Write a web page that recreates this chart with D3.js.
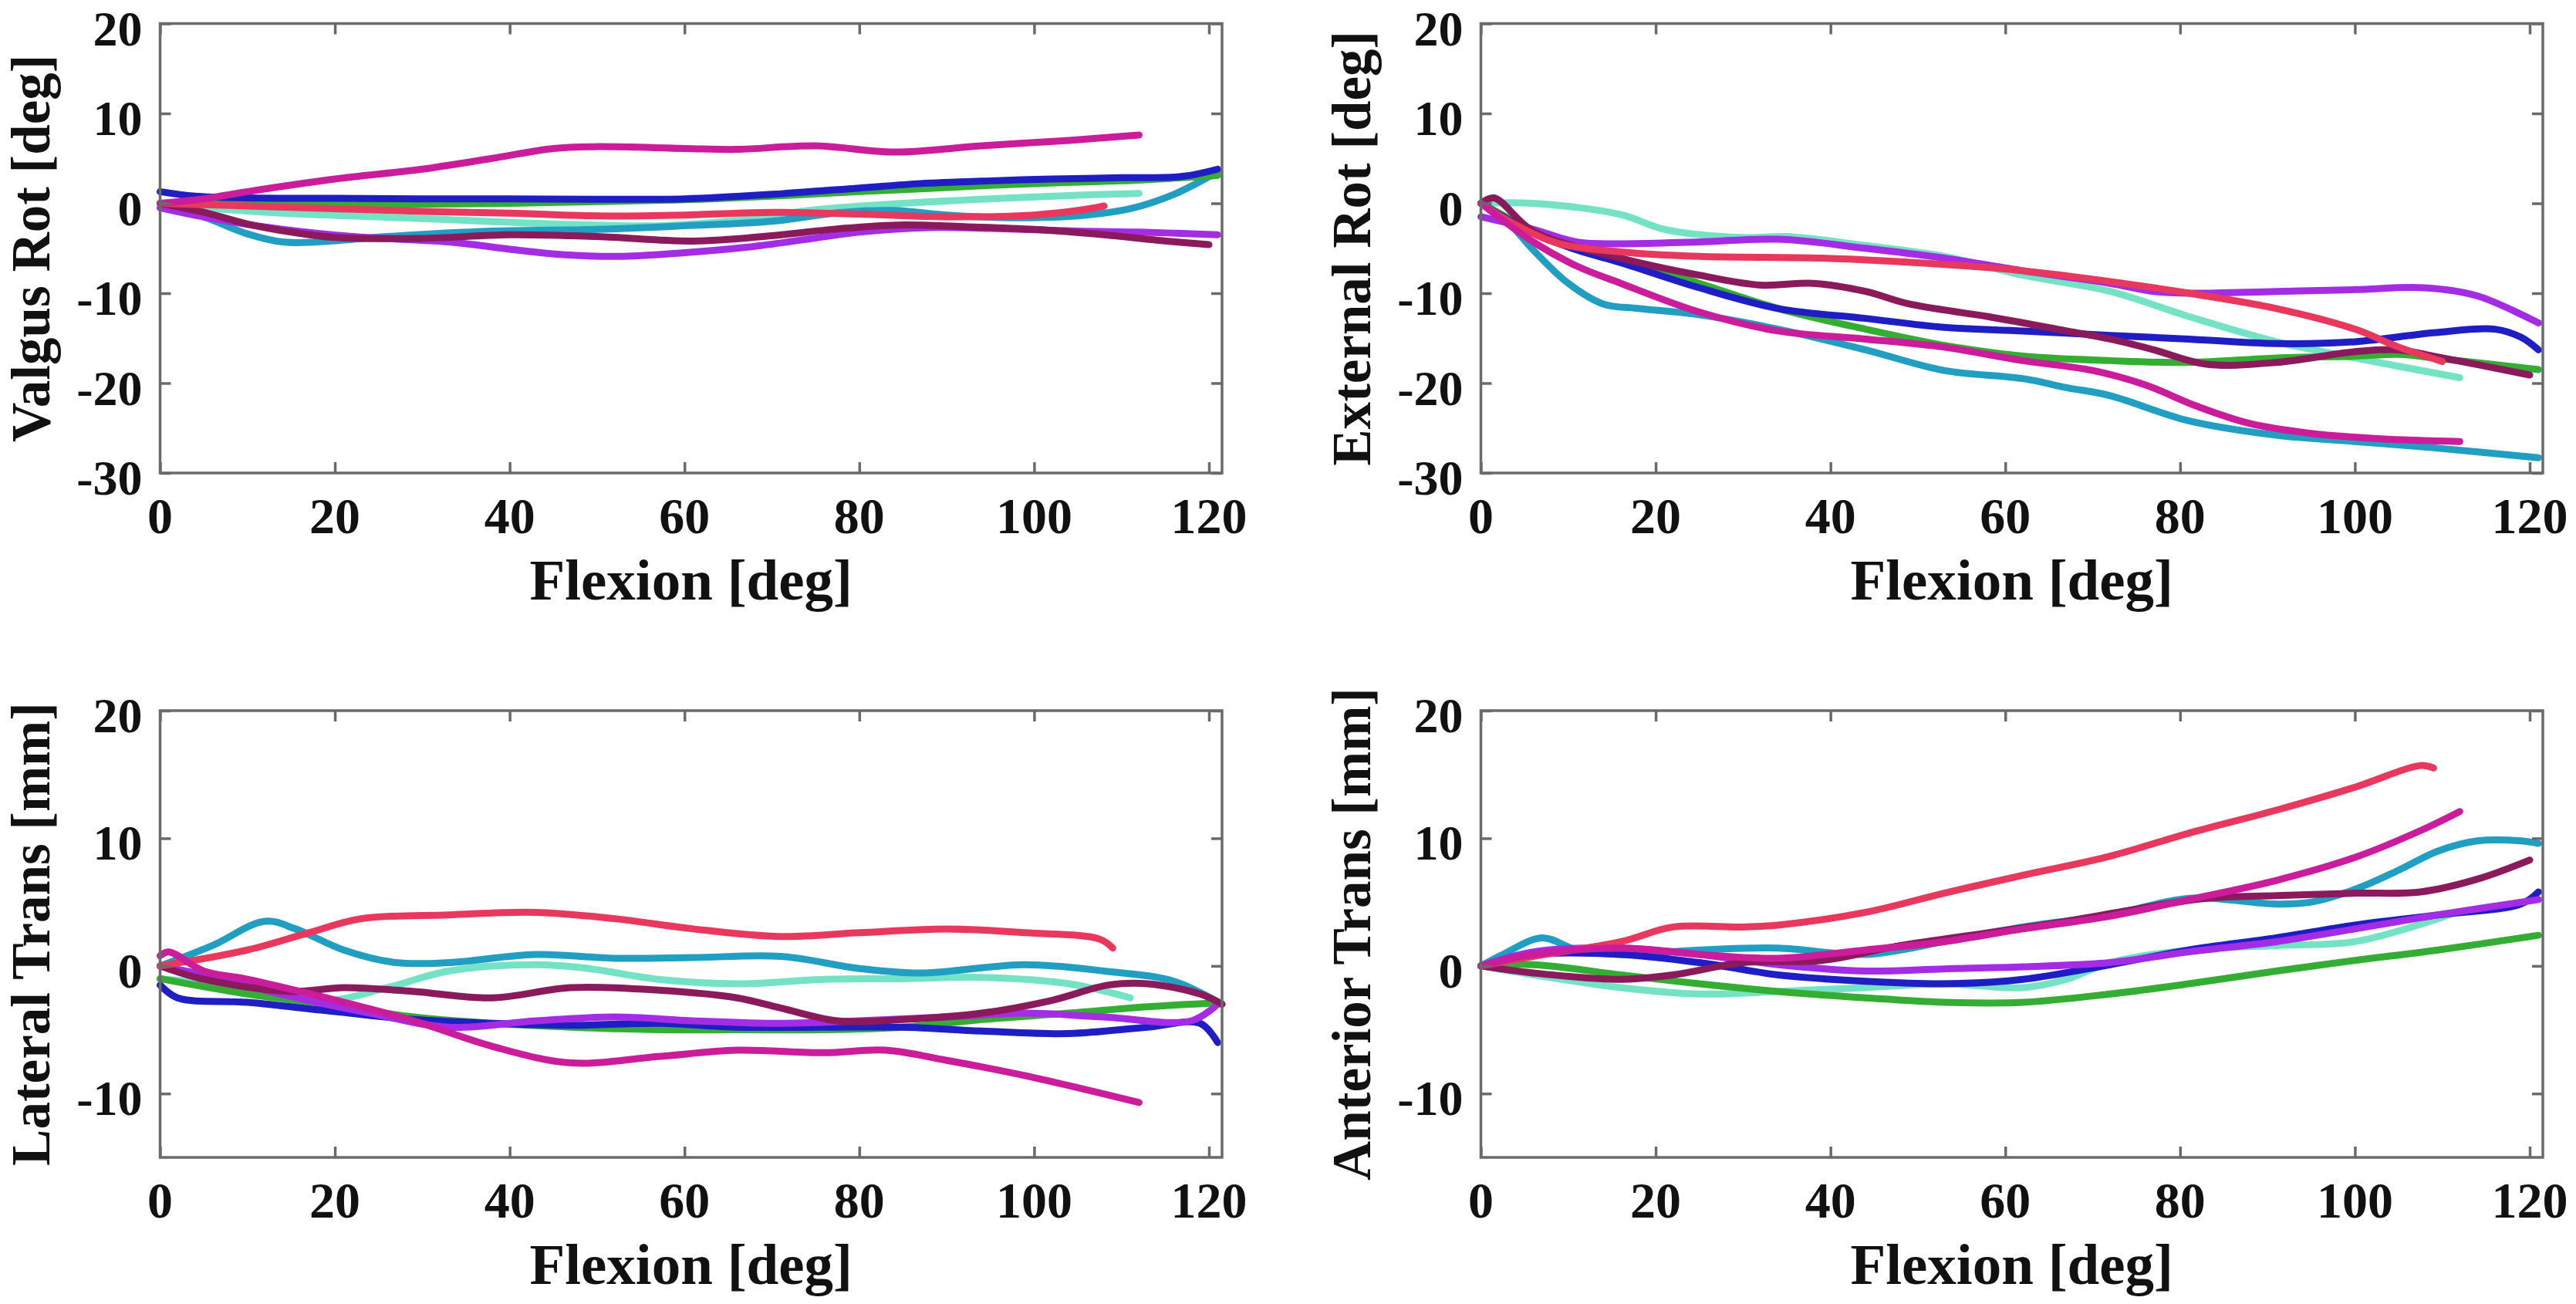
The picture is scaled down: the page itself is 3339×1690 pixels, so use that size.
<!DOCTYPE html>
<html><head><meta charset="utf-8">
<script src="https://cdn.jsdelivr.net/npm/d3@7/dist/d3.min.js"></script>
<style>body{margin:0;background:#fff}svg{display:block}</style>
</head><body>
<svg id="chart" width="3339" height="1690"></svg>
<script>
// ---------------- data ----------------
const specimens = ["blue", "green", "aqua", "teal", "red", "magenta", "purple", "maroon"];
const xTicks = [0, 20, 40, 60, 80, 100, 120];
const yTicksRot = [20, 10, 0, -10, -20, -30];
const yTicksTrans = [20, 10, 0, -10];
const xLabel = "Flexion [deg]";
const yLabels = ["Valgus Rot [deg]", "External Rot [deg]", "Lateral Trans [mm]", "Anterior Trans [mm]"];

// each series: [flexion, value] pairs, order follows `specimens`
const valgusRot = [
  [[0,1.3],[4,0.8],[10,0.6],[20,0.55],[30,0.5],[40,0.5],[50,0.45],[60,0.5],[70,1.0],[80,1.7],[87,2.2],[95,2.5],[102,2.7],[110,2.85],[117,3.0],[121,3.8]],
  [[0,0],[10,0],[20,-0.1],[30,-0.1],[40,0],[50,0.2],[60,0.4],[70,0.8],[80,1.3],[87,1.6],[95,2.0],[103,2.3],[110,2.5],[116,2.8],[121,3.1]],
  [[0,0],[5,-0.5],[14,-1.1],[30,-1.7],[45,-2.3],[57,-2.5],[65,-2.0],[75,-0.7],[85,0],[95,0.5],[105,0.9],[112,1.1]],
  [[0,0],[5,-1.5],[10,-3.4],[14,-4.3],[18,-4.3],[26,-3.7],[38,-3.1],[50,-2.9],[60,-2.5],[70,-2.0],[78,-1.0],[84,-0.8],[90,-1.3],[97,-1.6],[105,-1.4],[111,-0.6],[116,1.0],[121,3.5]],
  [[0,0],[10,-0.3],[20,-0.6],[30,-0.9],[40,-1.1],[50,-1.4],[60,-1.3],[70,-1.0],[80,-1.2],[90,-1.5],[100,-1.3],[105,-0.8],[108,-0.3]],
  [[0,0],[5,0.5],[10,1.3],[20,2.7],[30,3.8],[38,5.0],[45,6.1],[50,6.3],[60,6.1],[66,6.0],[75,6.4],[84,5.7],[94,6.4],[104,7.0],[112,7.6]],
  [[0,-0.5],[6,-1.7],[14,-2.9],[22,-3.7],[33,-4.3],[40,-5.1],[46,-5.7],[53,-5.9],[60,-5.5],[67,-4.9],[74,-4.0],[80,-3.2],[88,-2.7],[95,-2.8],[105,-3.1],[112,-3.2],[121,-3.5]],
  [[0,0],[5,-1],[10,-2.3],[15,-3.2],[20,-3.8],[30,-3.9],[40,-3.5],[50,-3.7],[61,-4.2],[70,-3.6],[78,-2.8],[85,-2.4],[92,-2.6],[100,-2.9],[108,-3.5],[114,-4.1],[120,-4.6]]
];

const externalRot = [
  [[0,0],[6,-3.3],[11,-5.2],[16,-6.6],[25,-9.4],[34,-11.7],[44,-12.8],[53,-13.8],[62,-14.2],[72,-14.7],[81,-15.1],[91,-15.6],[100,-15.4],[109,-14.4],[116,-14.0],[119,-14.9],[121,-16.3]],
  [[0,0],[6,-3],[11,-4.8],[16,-6.1],[25,-8.9],[34,-11.7],[44,-14.0],[53,-15.8],[62,-17.0],[72,-17.5],[81,-17.7],[91,-17.2],[100,-17.0],[105,-16.8],[109,-17.2],[121,-18.5]],
  [[0,0],[6,0],[16,-1.25],[21,-2.9],[30,-3.8],[35,-3.7],[44,-4.7],[53,-5.9],[62,-8.0],[72,-9.8],[81,-12.6],[91,-15.4],[100,-17.2],[112,-19.4]],
  [[0,0],[3,-2],[6,-5.2],[10,-8.9],[14,-11.2],[18,-11.7],[25,-12.4],[34,-14.0],[44,-16.3],[53,-18.6],[62,-19.5],[67,-20.5],[72,-21.4],[81,-24.2],[91,-25.8],[100,-26.5],[109,-27.2],[121,-28.3]],
  [[0,0],[4,-2.4],[9,-4.5],[16,-5.4],[25,-5.9],[39,-6.1],[53,-6.8],[62,-7.5],[72,-8.7],[81,-10.0],[91,-11.7],[100,-14.0],[105,-16.0],[110,-17.6]],
  [[0,0],[6,-4.3],[11,-7.0],[16,-8.9],[25,-12.1],[34,-14.2],[44,-15.1],[53,-16.0],[62,-17.5],[70,-18.6],[76,-20.2],[82,-22.6],[88,-24.5],[95,-25.6],[103,-26.2],[112,-26.5]],
  [[0,-1.5],[6,-2.9],[11,-4.3],[16,-4.5],[25,-4.3],[34,-4.0],[44,-5.0],[53,-6.1],[62,-7.5],[72,-8.9],[77,-9.8],[81,-10.0],[91,-9.8],[100,-9.6],[108,-9.4],[114,-10.3],[121,-13.3]],
  [[0,0],[1.5,0.6],[6,-3.1],[16,-6.1],[25,-8.0],[32,-9.1],[38,-8.9],[44,-9.8],[49,-11.2],[58,-12.6],[67,-14.2],[72,-15.1],[77,-16.3],[83,-17.9],[91,-17.7],[100,-16.5],[105,-16.3],[109,-17.0],[120,-19.1]]
];

const lateralTrans = [
  [[0,-1.5],[2,-2.5],[10,-2.85],[19,-3.5],[29,-4.2],[38,-4.5],[47,-4.65],[57,-4.5],[66,-4.8],[76,-4.8],[85,-4.8],[94,-5.1],[104,-5.3],[113,-4.8],[119,-4.5],[121,-6.0]],
  [[0,-1],[10,-2.2],[19,-3.0],[29,-4.0],[38,-4.5],[47,-4.8],[57,-5.0],[66,-5.0],[76,-5.0],[85,-4.8],[94,-4.2],[104,-3.7],[113,-3.2],[121,-2.9]],
  [[0,-1],[10,-1.7],[19,-2.7],[26,-1.7],[33,-0.4],[43,0.1],[49,-0.2],[57,-1.05],[66,-1.4],[76,-1.05],[85,-1.0],[94,-0.9],[104,-1.4],[111,-2.5]],
  [[0,0],[6,1.6],[12,3.5],[15.5,2.9],[21,1.25],[27,0.26],[33,0.26],[43,0.9],[52,0.6],[61,0.65],[71,0.75],[80,-0.2],[87,-0.56],[99,0.1],[108,-0.4],[116,-1.2],[121.5,-3.0]],
  [[0,0],[10,1.25],[17,2.6],[23,3.7],[33,4.0],[43,4.2],[52,3.7],[61,2.9],[71,2.3],[80,2.6],[90,2.9],[99,2.6],[107.5,2.1],[109,1.4]],
  [[0,0.8],[1,1.1],[5,-0.4],[10,-1.05],[19,-2.5],[29,-4.3],[38,-6.3],[47,-7.6],[57,-7.1],[66,-6.6],[76,-6.8],[83,-6.6],[90,-7.4],[99,-8.6],[112,-10.7]],
  [[0,0],[5,-0.7],[15,-2.4],[24,-3.7],[33,-4.8],[43,-4.3],[52,-4.0],[61,-4.3],[71,-4.5],[80,-4.3],[90,-4.0],[99,-3.7],[108,-4.0],[118,-4.3],[121,-3.0]],
  [[0,0],[5,-1.05],[15,-2.0],[21,-1.7],[29,-2.0],[38,-2.5],[47,-1.7],[57,-1.9],[66,-2.5],[71,-3.3],[77.5,-4.3],[85,-4.2],[94,-3.7],[102,-2.7],[108.5,-1.5],[113,-1.4],[119,-2.2],[121.5,-3.0]]
];

const anteriorTrans = [
  [[0,0],[6,0.9],[16,0.9],[25,0.26],[34,-0.7],[44,-1.2],[53,-1.4],[62,-1.05],[72,0.1],[81,1.25],[91,2.2],[100,3.2],[109.5,4.0],[119,4.85],[121,5.8]],
  [[0,0],[6,0.1],[16,-0.7],[25,-1.4],[34,-2.0],[44,-2.5],[53,-2.85],[62,-2.85],[72,-2.2],[81,-1.4],[91,-0.4],[100,0.43],[109.5,1.25],[121,2.4]],
  [[0,0],[6,-0.7],[16,-1.7],[25,-2.2],[34,-2.0],[44,-1.7],[53,-1.4],[62,-1.7],[67,-1.05],[72,0.26],[81,1.25],[91,1.6],[100,1.9],[109.5,3.7],[111.5,4.2]],
  [[0,0],[2.5,0.9],[7,2.2],[11,1.25],[16,0.9],[25,1.25],[34,1.4],[44,0.9],[53,1.9],[62,3.05],[72,4.0],[81,5.3],[91,4.85],[95,5.0],[100,6.0],[105,7.5],[109.5,9.0],[114,9.8],[119,9.8],[121,9.6]],
  [[0,0],[6,0.75],[16,1.9],[22,3.05],[30,3.05],[34,3.2],[44,4.2],[53,5.7],[62,7.1],[72,8.6],[81,10.4],[91,12.2],[100,14.0],[107.5,15.7],[109,15.5]],
  [[0,0],[6,0.9],[16,1.4],[25,0.9],[34,0.6],[44,1.25],[53,1.9],[62,2.9],[72,3.9],[81,5.2],[91,6.7],[100,8.5],[107.5,10.6],[112,12.1]],
  [[0,0],[6,1.1],[16,1.4],[25,0.9],[34,0.1],[44,-0.4],[53,-0.23],[62,-0.07],[72,0.26],[81,1.1],[91,1.9],[100,2.9],[109.5,4.0],[121,5.2]],
  [[0,0],[6,-0.55],[16,-1.05],[22,-0.7],[30,0.26],[39,0.43],[48,1.6],[58,2.6],[67,3.5],[77,4.7],[83,5.3],[91,5.5],[100,5.7],[107.5,5.8],[114,6.8],[120,8.3]]
];

// ---------------- style / layout ----------------
const palette = {
  blue: "#1e1ec4", green: "#33ae33", aqua: "#74e2c4", teal: "#219fc2",
  red: "#e8385e", magenta: "#cb1c9c", purple: "#a42ce4", maroon: "#8a1a5c"
};
const drawOrder = [2, 3, 1, 0, 6, 7, 4, 5];
const FONT = "'Liberation Serif','Times New Roman',serif";

const panels = [
  { data: valgusRot,     label: yLabels[0], yDomain: [-30, 20], yTicks: yTicksRot,   box: { l: 207.5,  t: 30.5, r: 1584,  b: 613 } },
  { data: externalRot,   label: yLabels[1], yDomain: [-30, 20], yTicks: yTicksRot,   box: { l: 1919.5, t: 30.5, r: 3296,  b: 613 } },
  { data: lateralTrans,  label: yLabels[2], yDomain: [-15, 20], yTicks: yTicksTrans, box: { l: 207.5,  t: 921,  r: 1584,  b: 1500 } },
  { data: anteriorTrans, label: yLabels[3], yDomain: [-15, 20], yTicks: yTicksTrans, box: { l: 1919.5, t: 921,  r: 3296,  b: 1500 } }
];

const svg = d3.select("#chart");
svg.append("rect").attr("width", 3339).attr("height", 1690).attr("fill", "#fff");

panels.forEach(p => {
  const { l, t, r, b } = p.box;
  const x = d3.scaleLinear().domain([0, 120]).range([l, l + (r - l) * 120 / 121.5]);
  const y = d3.scaleLinear().domain(p.yDomain).range([b, t]);
  const g = svg.append("g");

  // lines
  const line = d3.line().x(d => x(d[0])).y(d => y(d[1])).curve(d3.curveCatmullRom.alpha(0.5));
  drawOrder.forEach(i => {
    g.append("path")
      .attr("d", line(p.data[i]))
      .attr("fill", "none")
      .attr("stroke", palette[specimens[i]])
      .attr("stroke-width", 9)
      .attr("stroke-linecap", "round")
      .attr("stroke-linejoin", "round");
  });

  // axes (inward ticks, mirrored)
  const tick = 14;
  const axisColor = "#6a6a6a";
  const xb = g.append("g").attr("transform", `translate(0,${b})`)
    .call(d3.axisBottom(x).tickValues(xTicks).tickSize(-tick).tickFormat(""));
  const xt = g.append("g").attr("transform", `translate(0,${t})`)
    .call(d3.axisTop(x).tickValues(xTicks).tickSize(-tick).tickFormat(""));
  const yl = g.append("g").attr("transform", `translate(${l},0)`)
    .call(d3.axisLeft(y).tickValues(p.yTicks).tickSize(-tick).tickFormat(""));
  const yr = g.append("g").attr("transform", `translate(${r},0)`)
    .call(d3.axisRight(y).tickValues(p.yTicks).tickSize(-tick).tickFormat(""));
  [xb, xt, yl, yr].forEach(a => {
    a.select(".domain").remove();
    a.selectAll("line").attr("stroke", axisColor).attr("stroke-width", 3.5);
  });
  g.append("rect").attr("x", l).attr("y", t).attr("width", r - l).attr("height", b - t)
    .attr("fill", "none").attr("stroke", axisColor).attr("stroke-width", 3.5);

  // tick labels
  g.selectAll(".xtl").data(xTicks).enter().append("text")
    .attr("x", d => x(d)).attr("y", b + 78)
    .attr("text-anchor", "middle")
    .attr("font-family", FONT).attr("font-weight", "bold").attr("font-size", 66)
    .attr("fill", "#111").text(d => d);
  g.selectAll(".ytl").data(p.yTicks).enter().append("text")
    .attr("x", l - 23).attr("y", d => y(d) + 28)
    .attr("text-anchor", "end")
    .attr("font-family", FONT).attr("font-weight", "bold").attr("font-size", 64)
    .attr("fill", "#111").text(d => d);

  // axis titles
  g.append("text")
    .attr("x", (l + r) / 2).attr("y", b + 164)
    .attr("text-anchor", "middle")
    .attr("font-family", FONT).attr("font-weight", "bold").attr("font-size", 75)
    .attr("fill", "#111").text(xLabel);
  g.append("text")
    .attr("transform", `translate(${l - 144},${(t + b) / 2}) rotate(-90)`)
    .attr("text-anchor", "middle")
    .attr("font-family", FONT).attr("font-weight", "bold").attr("font-size", 71)
    .attr("fill", "#111").text(p.label);
});
</script>
</body></html>
